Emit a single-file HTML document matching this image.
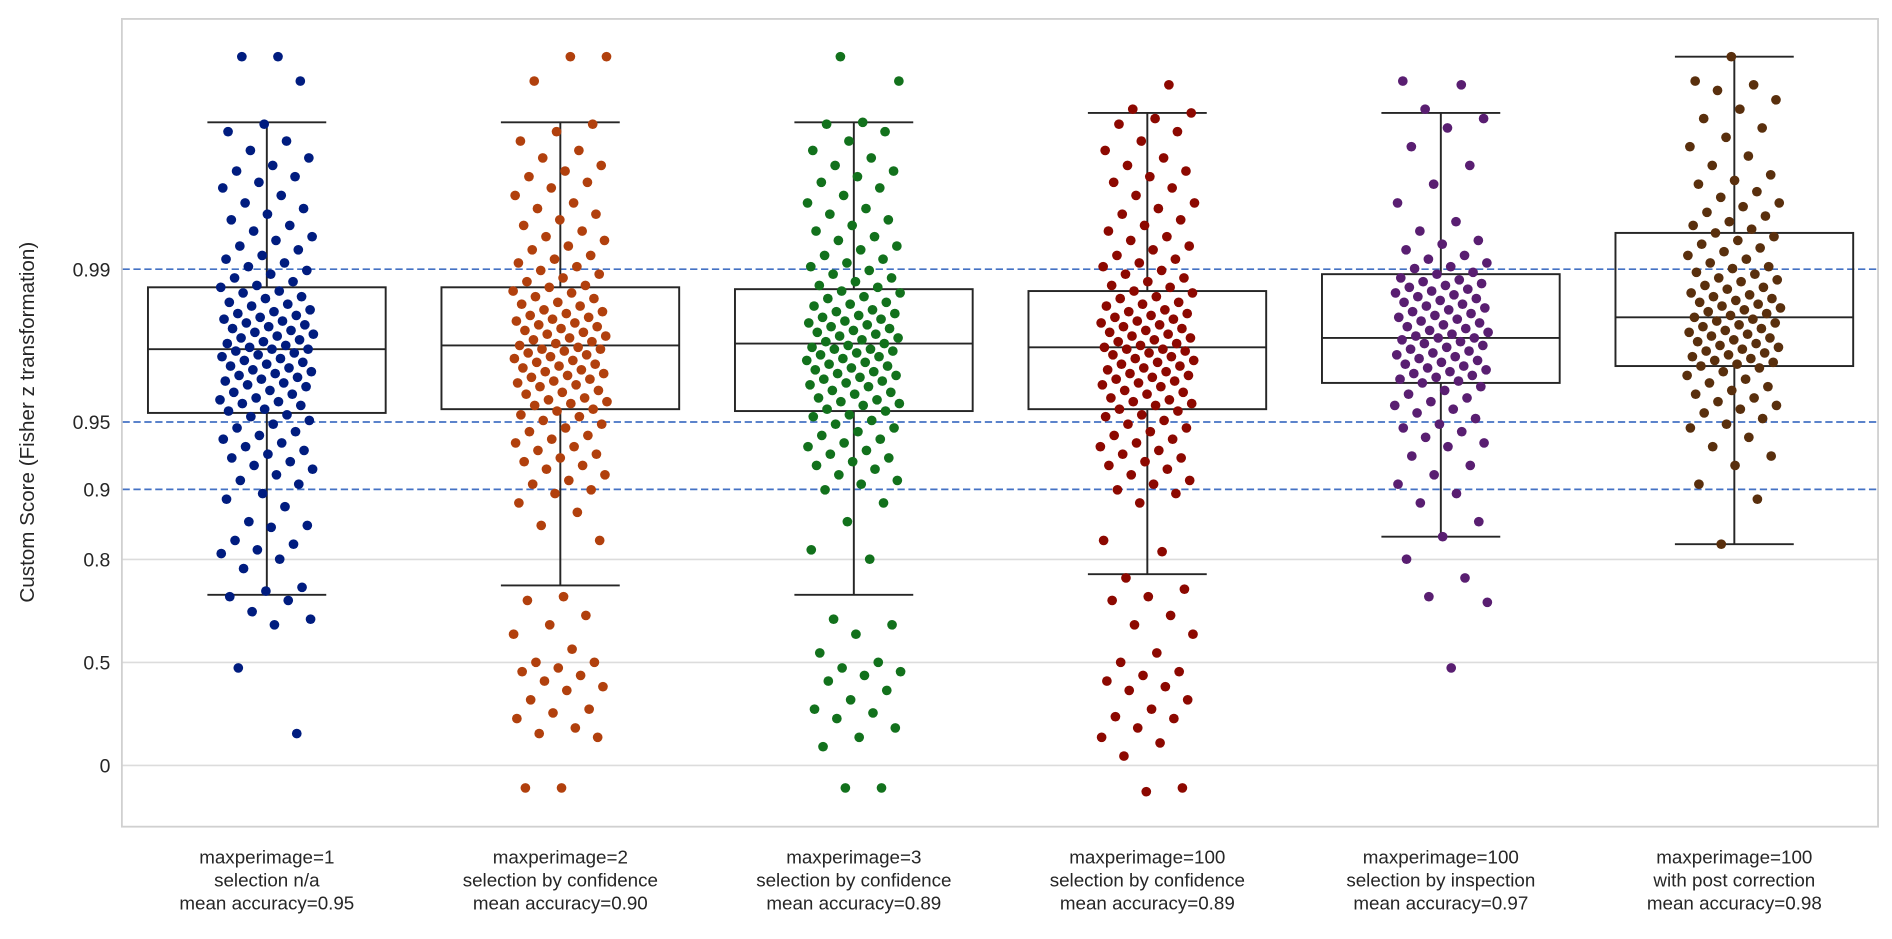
<!DOCTYPE html>
<html><head><meta charset="utf-8">
<style>
html,body{margin:0;padding:0;background:#fff;}
svg{display:block;font-family:"Liberation Sans",Arial,sans-serif;}
</style></head>
<body>
<svg id="chart" width="1892" height="939" viewBox="0 0 1560 774" xmlns="http://www.w3.org/2000/svg">
<rect x="0" y="0" width="1560" height="774" fill="#fff"/>
<g id="grid"></g>
<g id="boxes"></g>
<g id="points"></g>
<rect x="100.5" y="15.5" width="1448" height="666" fill="none" stroke="#d0d0d0" stroke-width="1.5"/>
<g id="yticks"></g>
<g id="xlabels"></g>
<text transform="translate(28,348) rotate(-90)" text-anchor="middle" font-size="17" fill="#262626">Custom Score (Fisher z transformation)</text>
</svg>
<script>
const tickLabels = ["0","0.5","0.8","0.9","0.95","0.99"];
const tickValues = [0,0.5,0.8,0.9,0.95,0.99];
const dashedTicks = [0.9,0.95,0.99];
const categories = [
 ["maxperimage=1","selection n/a","mean accuracy=0.95"],
 ["maxperimage=2","selection by confidence","mean accuracy=0.90"],
 ["maxperimage=3","selection by confidence","mean accuracy=0.89"],
 ["maxperimage=100","selection by confidence","mean accuracy=0.89"],
 ["maxperimage=100","selection by inspection","mean accuracy=0.97"],
 ["maxperimage=100","with post correction","mean accuracy=0.98"]
];
const colors = ["#001c7f","#b1400d","#12711c","#8c0800","#591e71","#592f0d"];
// box stats in Fisher z: [lowWhisker, Q1, median, Q3, highWhisker]
const boxStats = [
 [0.91,1.88,2.22,2.55,3.43],
 [0.96,1.90,2.24,2.55,3.43],
 [0.91,1.89,2.25,2.54,3.43],
 [1.02,1.90,2.23,2.53,3.48],
 [1.22,2.04,2.28,2.62,3.48],
 [1.18,2.13,2.39,2.84,3.78]
];
const core = [3.42,3.38,3.33,3.28,3.24,3.2,3.17,3.14,3.11,3.08,3.04,3.0,2.97,2.94,2.91,2.88,2.85,2.82,2.8,2.77,2.75,2.72,2.7,2.68,2.66,2.64,2.62,2.6,2.58,2.56,2.55,2.53,2.52,2.5,2.49,2.47,2.46,2.45,2.43,2.42,2.41,2.4,2.39,2.38,2.37,2.36,2.35,2.34,2.33,2.32,2.31,2.3,2.29,2.28,2.27,2.26,2.25,2.24,2.23,2.22,2.22,2.21,2.2,2.19,2.18,2.17,2.16,2.15,2.14,2.13,2.12,2.11,2.1,2.09,2.08,2.07,2.06,2.05,2.04,2.03,2.02,2.0,1.99,1.98,1.96,1.95,1.94,1.93,1.92,1.9,1.89,1.87,1.86,1.84,1.82,1.8,1.78,1.76,1.74,1.72,1.7,1.68,1.66,1.64,1.62,1.6,1.58,1.55,1.52,1.5];
const series1 = [3.78,3.78,3.65,...core,1.45,1.42,1.38,1.3,1.28,1.27,1.2,1.18,1.15,1.13,1.1,1.05,0.95,0.93,0.9,0.88,0.82,0.78,0.75,0.52,0.17];
const series2 = [3.78,3.78,3.65,...core,1.47,1.45,1.4,1.35,1.28,1.2,0.9,0.88,0.8,0.75,0.7,0.62,0.55,0.55,0.52,0.5,0.48,0.45,0.42,0.4,0.35,0.3,0.28,0.25,0.2,0.17,0.15,-0.12,-0.12];
const series3 = [3.78,3.65,3.43,...core,1.47,1.4,1.3,1.15,1.1,0.78,0.75,0.7,0.6,0.55,0.52,0.5,0.48,0.45,0.4,0.35,0.3,0.28,0.25,0.2,0.15,0.1,-0.12,-0.12];
const series4 = [3.63,3.5,3.48,3.45,...core,1.47,1.45,1.4,1.2,1.14,1.0,0.94,0.9,0.88,0.8,0.75,0.7,0.6,0.55,0.5,0.48,0.45,0.42,0.4,0.35,0.3,0.26,0.25,0.2,0.15,0.12,0.05,-0.12,-0.14];
const series5 = [3.65,3.63,3.5,3.45,3.4,3.3,3.2,3.1,3.0,2.9,2.85,2.8,2.78,2.75,2.72,2.7,2.68,2.66,2.65,2.63,2.62,2.6,2.59,2.58,2.57,2.56,2.55,2.54,2.53,2.52,2.51,2.5,2.49,2.48,2.47,2.46,2.45,2.44,2.43,2.42,2.41,2.4,2.39,2.38,2.37,2.36,2.35,2.34,2.33,2.32,2.31,2.3,2.29,2.28,2.28,2.27,2.26,2.25,2.24,2.23,2.22,2.21,2.2,2.19,2.18,2.17,2.16,2.15,2.14,2.13,2.12,2.11,2.1,2.09,2.08,2.07,2.06,2.05,2.04,2.02,2.0,1.98,1.96,1.94,1.92,1.9,1.88,1.85,1.82,1.8,1.78,1.75,1.72,1.7,1.65,1.6,1.55,1.5,1.45,1.4,1.3,1.22,1.1,1.0,0.9,0.87,0.52];
const series6 = [3.78,3.65,3.63,3.6,3.55,3.5,3.45,3.4,3.35,3.3,3.25,3.2,3.15,3.12,3.1,3.06,3.03,3.0,2.98,2.95,2.93,2.9,2.88,2.86,2.84,2.82,2.8,2.78,2.76,2.74,2.72,2.7,2.68,2.66,2.65,2.63,2.62,2.6,2.59,2.58,2.56,2.55,2.54,2.52,2.51,2.5,2.49,2.48,2.47,2.46,2.45,2.44,2.43,2.42,2.41,2.4,2.39,2.38,2.37,2.36,2.35,2.34,2.33,2.32,2.31,2.3,2.29,2.28,2.27,2.26,2.25,2.24,2.23,2.22,2.21,2.2,2.19,2.18,2.17,2.16,2.15,2.14,2.13,2.12,2.1,2.08,2.06,2.04,2.02,2.0,1.98,1.96,1.94,1.92,1.9,1.88,1.85,1.82,1.8,1.75,1.7,1.65,1.6,1.5,1.42,1.18];
const seriesList = [series1,series2,series3,series4,series5,series6];

const NS = "http://www.w3.org/2000/svg";
const yPx = z => 631 - z * 154.6;
const yOf = r => yPx(Math.atanh(r));
const xCenter = i => 220 + i * 242;
const boxW = 196;
function mk(tag, attrs, parent){ const e=document.createElementNS(NS,tag); for(const k in attrs) e.setAttribute(k,attrs[k]); parent.appendChild(e); return e; }
const grid=document.getElementById('grid'), yt=document.getElementById('yticks');
tickValues.forEach((v,i)=>{
  const y=yOf(v);
  const dashed=dashedTicks.includes(v);
  const l=mk('line',{x1:101,x2:1548,y1:y,y2:y,stroke:dashed?'#4472c4':'#dcdcdc','stroke-width':dashed?1.4:1.3,'stroke-dasharray':dashed?'6,3':'none'},grid);
  
  
  const t=mk('text',{x:91,y:y+6,'text-anchor':'end','font-size':16,fill:'#262626'},yt);
  
  
  t.textContent=tickLabels[i];
});
const bx=document.getElementById('boxes');
boxStats.forEach((s,i)=>{
  const cx=xCenter(i);
  const g=mk('g',{stroke:'#262626','stroke-width':1.6,fill:'none'},bx);
  
  
  mk('line',{x1:cx,x2:cx,y1:yPx(s[4]),y2:yPx(s[3])},g);
  mk('line',{x1:cx,x2:cx,y1:yPx(s[1]),y2:yPx(s[0])},g);
  mk('line',{x1:cx-49,x2:cx+49,y1:yPx(s[4]),y2:yPx(s[4])},g);
  mk('line',{x1:cx-49,x2:cx+49,y1:yPx(s[0]),y2:yPx(s[0])},g);
  mk('rect',{x:cx-boxW/2,y:yPx(s[3]),width:boxW,height:yPx(s[1])-yPx(s[3])},g);
  mk('line',{x1:cx-boxW/2,x2:cx+boxW/2,y1:yPx(s[2]),y2:yPx(s[2])},g);
});
const pts=document.getElementById('points');
seriesList.forEach((arr,i)=>{
  const cx=xCenter(i);
  arr.forEach((z,j)=>{
    const jit=(((j+1)*0.6180339887+i*0.37)%1-0.5)*78;
    const c=mk('circle',{cx:cx+jit,cy:yPx(z),r:4.0,fill:colors[i]},pts);
    
    
  });
});
const xl=document.getElementById('xlabels');
categories.forEach((lines,i)=>{
  lines.forEach((s,k)=>{
    const t=mk('text',{x:xCenter(i),y:712+k*19,'text-anchor':'middle','font-size':15.5,fill:'#262626'},xl);
    
    
    t.textContent=s;
  });
});
</script>
</body></html>
